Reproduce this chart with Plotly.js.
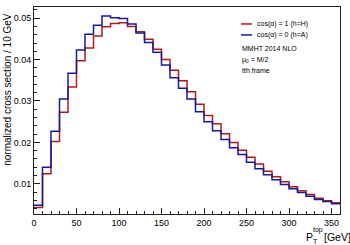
<!DOCTYPE html>
<html>
<head>
<meta charset="utf-8">
<script src="https://cdn.plot.ly/plotly-3.0.1.min.js"></script>
<style>html,body{margin:0;padding:0;background:#fff;}#chart{width:350px;height:245px;}</style>
</head>
<body>
<div id="chart"></div>
<script>
// bin edges (GeV), 10 GeV bins from 0 to 360
const binEdges = [0,10,20,30,40,50,60,70,80,90,100,110,120,130,140,150,160,170,180,190,200,210,220,230,240,250,260,270,280,290,300,310,320,330,340,350,360];
// cos(alpha) = 1 (h=H)
const valuesH = [0.0043,0.0124,0.0202,0.0273,0.0334,0.0397,0.0428,0.0457,0.0479,0.0487,0.0489,0.0480,0.0467,0.0449,0.0425,0.0400,0.0374,0.0349,0.0322,0.0292,0.0265,0.0245,0.0221,0.0200,0.0181,0.0164,0.0148,0.0130,0.0117,0.0105,0.0093,0.0083,0.0074,0.0065,0.0059,0.0054];
// cos(alpha) = 0 (h=A)
const valuesA = [0.0048,0.0140,0.0227,0.0305,0.0367,0.0423,0.0461,0.0483,0.0505,0.0501,0.0499,0.0486,0.0464,0.0441,0.0418,0.0387,0.0356,0.0331,0.0305,0.0274,0.0250,0.0228,0.0207,0.0187,0.0171,0.0152,0.0136,0.0122,0.0110,0.0098,0.0088,0.0079,0.0070,0.0062,0.0057,0.0052];
const seriesNames = ["cos(\u03b1) = 1 (h=H)", "cos(\u03b1) = 0 (h=A)"];
const xTickVals = [0,50,100,150,200,250,300,350];
const yTickVals = [0.01,0.02,0.03,0.04,0.05];
const yTickText = ["0.01","0.02","0.03","0.04","0.05"];

const colH = "rgb(178,24,24)";
const colA = "rgb(24,24,168)";

function stepY(v){ return v.concat([v[v.length-1]]); }

const traces = [
  {x: binEdges, y: stepY(valuesH), mode: "lines", line: {shape: "hv", color: colH, width: 1.5}, name: seriesNames[0], showlegend: false},
  {x: binEdges, y: stepY(valuesA), mode: "lines", line: {shape: "hv", color: colA, width: 1.5}, name: seriesNames[1], showlegend: false}
];

const font = "Liberation Sans, Arial, sans-serif";
const axisCommon = {
  showline: true, linecolor: "#222", linewidth: 1, mirror: true,
  ticks: "inside", tickcolor: "#222", ticklen: 6, tickwidth: 1,
  showgrid: false, zeroline: false,
  tickfont: {family: font, size: 9, color: "#000"}
};

// paper coords helpers (plot area: x 34..340, y 7..214.5)
function px2x(px){ return (px-34)/306; }
function py2y(py){ return (214.5-py)/207.5; }

function txt(text, px, py, size, anchor){
  return {xref: "paper", yref: "paper", x: px2x(px), y: py2y(py), xanchor: anchor || "left", yanchor: "middle",
          showarrow: false, text: text, font: {family: font, size: size, color: "#000"}};
}

const layout = {
  width: 350, height: 245,
  margin: {l: 34, r: 10, t: 7, b: 30.5},
  paper_bgcolor: "#fff", plot_bgcolor: "#fff",
  showlegend: false,
  xaxis: Object.assign({}, axisCommon, {
    range: [0, 360], tickvals: xTickVals,
    minor: {dtick: 10, ticks: "inside", ticklen: 3, tickcolor: "#222"}
  }),
  yaxis: Object.assign({}, axisCommon, {
    range: [0.0027, 0.0527], tickvals: yTickVals, ticktext: yTickText,
    minor: {dtick: 0.002, tick0: 0, ticks: "inside", ticklen: 3, tickcolor: "#222"}
  }),
  shapes: [
    {type: "line", xref: "paper", yref: "paper", x0: px2x(241), x1: px2x(252), y0: py2y(24), y1: py2y(24), line: {color: colH, width: 1.5}},
    {type: "line", xref: "paper", yref: "paper", x0: px2x(241), x1: px2x(252), y0: py2y(35), y1: py2y(35), line: {color: colA, width: 1.5}}
  ],
  annotations: [
    txt(seriesNames[0], 255, 24, 7),
    txt(seriesNames[1], 255, 35, 7),
    txt("MMHT 2014 NLO", 240, 49, 7),
    txt("\u03bc<sub>0</sub> = M/2", 240, 60, 7),
    txt("tth frame", 240, 71, 7),
    {xref: "paper", yref: "paper", x: px2x(8), y: py2y(90), xanchor: "center", yanchor: "middle", textangle: -90, showarrow: false,
     text: "normalized cross section / 10 GeV", font: {family: font, size: 10, color: "#000"}},
    // x-axis title: P_T^top [GeV] with stacked sub/superscript
    txt("P", 303.5, 237.5, 10.5),
    txt("top", 310.5, 231, 7),
    txt("T", 310.5, 242, 7),
    txt("[GeV]", 321.5, 237.5, 10.5)
  ]
};

Plotly.newPlot("chart", traces, layout, {displayModeBar: false, staticPlot: true});
</script>
</body>
</html>
